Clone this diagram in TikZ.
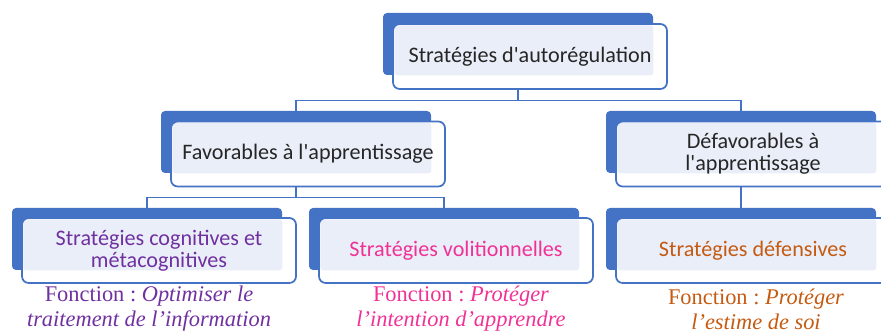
\documentclass[tikz,border=0pt]{standalone}
\usepackage{fontspec}
\setmainfont{Carlito}[Ligatures=TeXOff]
\newfontfamily\fonctionfont{Liberation Serif}
\usepackage{xcolor}
\usepackage{tikz}
\frenchspacing
\definecolor{boxblue}{RGB}{68,114,196}
\definecolor{boxlight}{RGB}{233,238,248}
\definecolor{boxtext}{RGB}{38,38,38}
\definecolor{catcognitive}{RGB}{112,48,160}
\definecolor{catvolition}{RGB}{240,50,150}
\definecolor{catdefense}{RGB}{197,90,17}
\newcommand{\boxfont}{\fontsize{16.6}{16.4}\selectfont}
\newcommand{\fonctionsize}{\fonctionfont\fontsize{16.8}{18.6}\selectfont}

\tikzset{
  backbox/.style={fill=boxblue, rounded corners=3pt, inner sep=0pt,
    minimum width=202.5pt, minimum height=46.5pt},
  frontbox/.style={draw=boxblue, line width=1.3pt, fill=white, rounded corners=5pt,
    inner sep=0pt, minimum width=205.5pt, minimum height=48.75pt,
    align=center, font=\boxfont, text=boxtext,
    path picture={\fill[boxlight, rounded corners=2pt]
      ([shift={(1pt,-1pt)}]path picture bounding box.north west) rectangle (#1.south east);}},
  link/.style={draw=boxblue, line width=0.8pt},
  fonction/.style={align=center, font=\fonctionsize, inner sep=0pt}
}

\begin{document}
\begin{tikzpicture}[x=0.75pt, y=-0.75pt]
    \clip (0,0) rectangle (881,334);

    % Back boxes
    \node[backbox] (topB) at (518,44) {};
    \node[backbox] (favB) at (296,142) {};
    \node[backbox] (defB) at (741,142) {};
    \node[backbox] (cogB) at (147,239) {};
    \node[backbox] (volB) at (444,239) {};
    \node[backbox] (dfsB) at (741,239) {};

    % Connectors
    \draw[link] (topB.south) -- ++(0,25) -| (favB.north);
    \draw[link] (topB.south) -- ++(0,25) -| (defB.north);
    \draw[link] (favB.south) -- ++(0,24) -| (cogB.north);
    \draw[link] (favB.south) -- ++(0,24) -| (volB.north);
    \draw[link] (defB.south) -- (dfsB.north);

    % Front boxes
    \node[frontbox=topB] (top) at (530,56.5) {Stratégies d'autorégulation};
    \node[frontbox=favB] (fav) at (308,154) {Favorables à l'apprentissage};
    \node[frontbox=defB] (def) at (753,154) {Défavorables à\\l'apprentissage};
    \node[frontbox=cogB, text=catcognitive] (cog) at (159,250.5) {Stratégies cognitives et\\métacognitives};
    \node[frontbox=volB, text=catvolition] (vol) at (456,250.5) {Stratégies volitionnelles};
    \node[frontbox=dfsB, text=catdefense] (dfs) at (753,250.5) {Stratégies défensives};

    % Functions
    \node[fonction, text=catcognitive] (cogF) at (149,309) {Fonction : \textit{Optimiser le}\\\textit{traitement de l’information}};
    \node[fonction, text=catvolition] (volF) at (461,309) {Fonction : \textit{Protéger}\\\textit{l’intention d’apprendre}};
    \node[fonction, text=catdefense] (dfsF) at (756,309) {Fonction : \textit{Protéger}\\\textit{l’estime de soi}};

\end{tikzpicture}
\end{document}
